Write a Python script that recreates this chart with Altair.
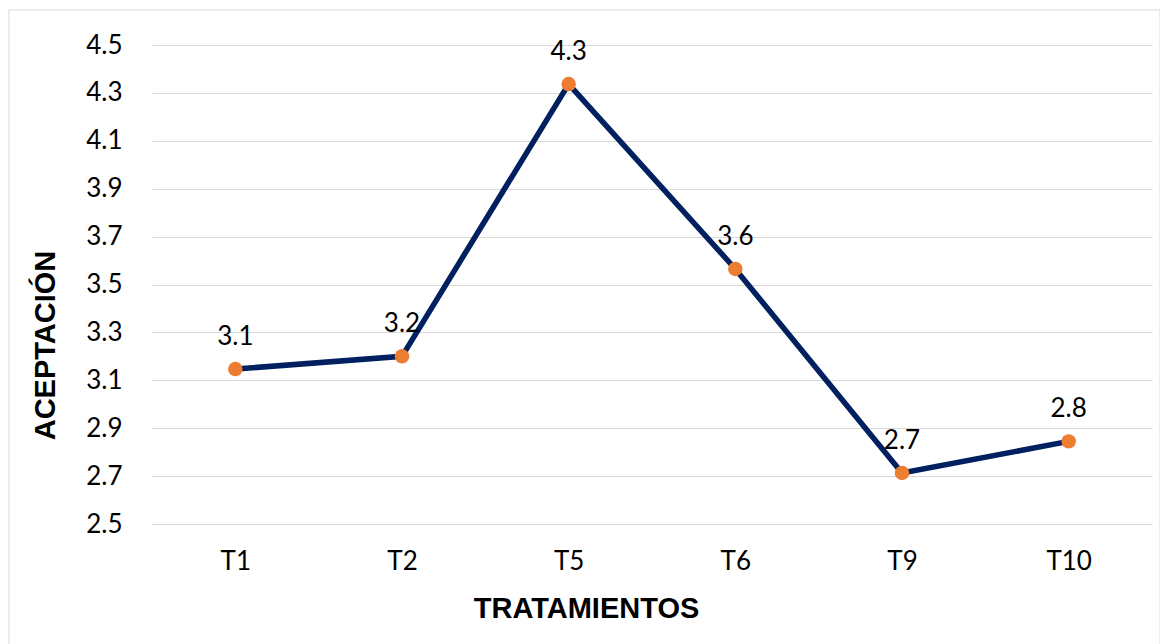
import altair as alt
import pandas as pd

categories = ["T1", "T2", "T5", "T6", "T9", "T10"]
values = [3.147, 3.20, 4.337, 3.565, 2.713, 2.845]
y_ticks = [2.5, 2.7, 2.9, 3.1, 3.3, 3.5, 3.7, 3.9, 4.1, 4.3, 4.5]

df = pd.DataFrame({"tratamiento": categories, "aceptacion": values})

W, H = 1000, 479

x_enc = alt.X(
    "tratamiento:N",
    sort=categories,
    scale=alt.Scale(paddingInner=0, paddingOuter=0),
    axis=alt.Axis(
        title="TRATAMIENTOS",
        titleFont="Liberation Sans",
        titleFontSize=29,
        titleFontWeight="bold",
        titleColor="#000000",
        titleX=434,
        titleY=84,
        titleBaseline="middle",
        labelFont="Lato",
        labelFontSize=26,
        labelColor="#000000",
        labelAngle=0,
        labelPadding=24,
        ticks=False,
        domain=False,
        grid=False,
    ),
)
y_enc = alt.Y(
    "aceptacion:Q",
    scale=alt.Scale(domain=[2.5, 4.5], nice=False, zero=False),
    axis=alt.Axis(
        title="ACEPTACIÓN",
        titleFont="Liberation Sans",
        titleFontSize=29,
        titleFontWeight="bold",
        titleColor="#000000",
        titleX=-107,
        titleY=300,
        titleBaseline="middle",
        titleAngle=270,
        values=y_ticks,
        format=".1f",
        labelFont="Lato",
        labelFontSize=26,
        labelColor="#000000",
        labelPadding=30,
        ticks=False,
        domain=False,
        grid=True,
        gridColor="#d9d9d9",
        gridWidth=1,
    ),
)

base = alt.Chart(df).encode(x=x_enc, y=y_enc)

line = base.mark_line(color="#002060", strokeWidth=5.5)
points = base.mark_circle(color="#ED7D31", opacity=1, size=210)
labels = base.mark_text(
    font="Lato", fontSize=26, color="#000000", baseline="alphabetic", dy=-24
).encode(text=alt.Text("aceptacion:Q", format=".1f"))

border = alt.Chart(alt.Data(values=[{}])).mark_rect(
    fill=None, stroke="#d9d9d9", strokeWidth=1
).encode(
    x=alt.value(-143), x2=alt.value(1008), y=alt.value(-35), y2=alt.value(660)
)

chart = (
    alt.layer(border, line, points, labels)
    .properties(
        width=W,
        height=H,
        autosize=alt.AutoSizeParams(type="none"),
        padding={"left": 144, "top": 37, "right": 8, "bottom": 130},
        background="#ffffff",
    )
    .configure_view(stroke=None)
)

chart.save("out.html", embed_options={"renderer": "svg", "actions": False})
